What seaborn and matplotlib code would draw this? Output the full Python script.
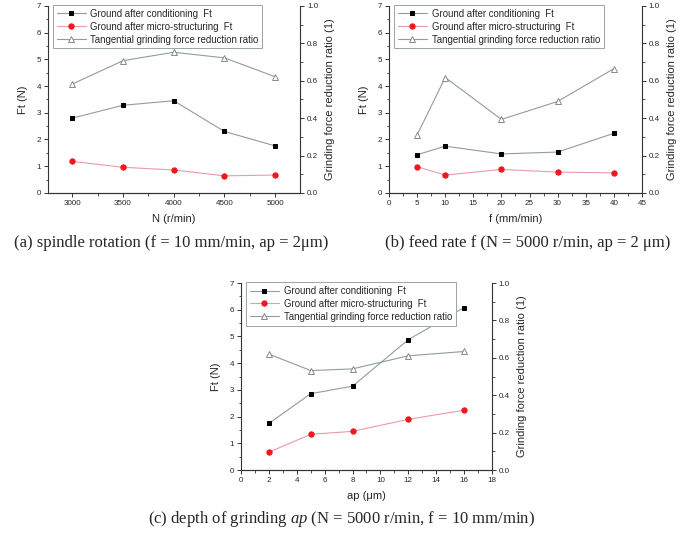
import pandas as pd
import numpy as np
import matplotlib
matplotlib.use('Agg')
from matplotlib import pyplot as plt
from matplotlib.ticker import MultipleLocator, AutoMinorLocator
import seaborn as sns

# Data
spindle_N = [3000, 3500, 4000, 4500, 5000]
spindle_cond = [2.80, 3.28, 3.45, 2.30, 1.76]
spindle_micro = [1.18, 0.96, 0.86, 0.64, 0.67]
spindle_ratio = [0.582, 0.707, 0.752, 0.722, 0.621]

feed_f = [5, 10, 20, 30, 40]
feed_cond = [1.43, 1.75, 1.46, 1.53, 2.23]
feed_micro = [0.98, 0.67, 0.88, 0.78, 0.75]
feed_ratio = [0.311, 0.617, 0.393, 0.489, 0.664]

depth_ap = [2, 5, 8, 12, 16]
depth_cond = [1.75, 2.86, 3.14, 4.88, 6.08]
depth_micro = [0.67, 1.34, 1.45, 1.90, 2.24]
depth_ratio = [0.620, 0.532, 0.541, 0.611, 0.634]

series_labels = ['Ground after conditioning  Ft',
                 'Ground after micro-structuring  Ft',
                 'Tangential grinding force reduction ratio']
captions = ['(a) spindle rotation (f = 10 mm/min, ap = 2\u03bcm)',
            '(b) feed rate f (N = 5000 r/min, ap = 2 \u03bcm)',
            '(c) depth of grinding $\\mathit{ap}$ (N = 5000 r/min, f = 10 mm/min)']

sns.set_theme(style='ticks')
plt.rcParams['font.family'] = ['Liberation Sans', 'DejaVu Sans']
plt.rcParams['mathtext.fontset'] = 'custom'
plt.rcParams['mathtext.it'] = 'Liberation Serif:italic'
plt.rcParams['mathtext.rm'] = 'Liberation Serif'

line_grey = '#8f9e9b'
red = '#f0161e'
pink = '#ec9aa8'
spine_col = '#333333'


def draw_panel(ax, x, cond, micro, ratio, xlabel, xlim, xmajor):
    df = pd.DataFrame({'x': x, 'cond': cond, 'micro': micro, 'ratio': ratio})
    sns.lineplot(data=df, x='x', y='cond', ax=ax, color=line_grey, lw=0.8,
                 marker='s', markersize=3.3, markerfacecolor='black',
                 markeredgecolor='black', label=series_labels[0], legend=False)
    sns.lineplot(data=df, x='x', y='micro', ax=ax, color=pink, lw=0.8,
                 marker='o', markersize=3.8, markerfacecolor=red,
                 markeredgecolor=red, label=series_labels[1], legend=False)
    ax2 = ax.twinx()
    sns.lineplot(data=df, x='x', y='ratio', ax=ax2, color=line_grey, lw=0.8,
                 marker='^', markersize=4.6, markerfacecolor='white',
                 markeredgecolor='#777777', markeredgewidth=0.6,
                 label=series_labels[2], legend=False)

    ax.set_xlim(*xlim)
    ax.set_ylim(0, 7)
    ax2.set_ylim(0, 1.0)
    ax.xaxis.set_major_locator(MultipleLocator(xmajor))
    ax.xaxis.set_minor_locator(AutoMinorLocator(2))
    ax.yaxis.set_major_locator(MultipleLocator(1))
    ax.yaxis.set_minor_locator(AutoMinorLocator(2))
    ax2.yaxis.set_major_locator(MultipleLocator(0.2))
    ax2.yaxis.set_minor_locator(AutoMinorLocator(2))

    ax.set_xlabel(xlabel, fontsize=8, labelpad=5)
    ax.set_ylabel('Ft (N)', fontsize=8, labelpad=6)
    ax2.set_ylabel('Grinding force reduction ratio (1)', fontsize=8, labelpad=5)

    for a in (ax, ax2):
        a.spines['top'].set_visible(False)
        for s in a.spines.values():
            s.set_color(spine_col)
            s.set_linewidth(0.8)
        a.tick_params(which='major', direction='out', length=3, width=0.7,
                      labelsize=5.8, color=spine_col, pad=2)
        a.tick_params(which='minor', direction='out', length=1.8, width=0.6,
                      color=spine_col)
    ax.spines['right'].set_visible(False)
    ax2.spines['left'].set_visible(False)
    ax2.yaxis.set_major_formatter(matplotlib.ticker.FormatStrFormatter('%.1f'))

    handles = ax.get_lines()[:2] + ax2.get_lines()[:1]
    leg = ax.legend(handles, series_labels, loc='upper left',
                    bbox_to_anchor=(0.02, 1.005), fontsize=6.9, frameon=True,
                    fancybox=False, edgecolor='#9aa6a4', framealpha=1,
                    handlelength=3.0, borderpad=0.4, labelspacing=0.3,
                    handletextpad=0.5, borderaxespad=0)
    leg.get_frame().set_linewidth(0.7)
    return ax2


fig = plt.figure(figsize=(6.85, 5.33), dpi=100)
ax_a = fig.add_axes([0.070, 0.638, 0.368, 0.351])
ax_b = fig.add_axes([0.568, 0.638, 0.369, 0.351])
ax_c = fig.add_axes([0.352, 0.118, 0.366, 0.351])

draw_panel(ax_a, spindle_N, spindle_cond, spindle_micro, spindle_ratio,
           'N (r/min)', (2760, 5245), 500)
draw_panel(ax_b, feed_f, feed_cond, feed_micro, feed_ratio,
           'f (mm/min)', (0, 45), 5)
draw_panel(ax_c, depth_ap, depth_cond, depth_micro, depth_ratio,
           'ap (\u03bcm)', (0, 18), 2)

cap_kw = dict(ha='center', va='center', fontsize=12,
              family=['Liberation Serif', 'DejaVu Serif'])
fig.text(0.250, 0.545, captions[0], **cap_kw)
fig.text(0.770, 0.545, captions[1], **cap_kw)
fig.text(0.498, 0.026, captions[2], **cap_kw)

fig.savefig('out.png', dpi=100, facecolor='white')
